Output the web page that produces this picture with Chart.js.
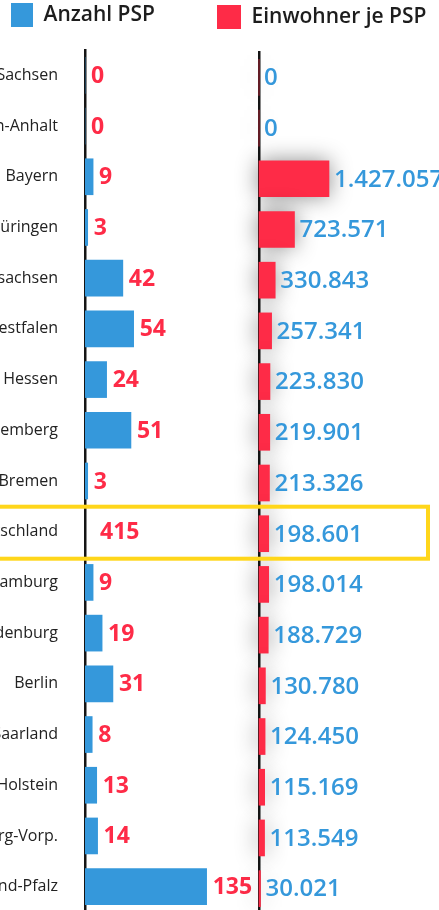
<!DOCTYPE html>
<html>
<head>
<meta charset="utf-8">
<script src="https://cdn.jsdelivr.net/npm/chart.js@4"></script>
<style>
  html, body { margin: 0; padding: 0; background: #fff; overflow: hidden; }
  #wrap { position: relative; width: 439px; height: 910px; overflow: hidden; }
  #links { position: absolute; left: 0; top: 0; width: 258px; height: 912px; }
  #rechts { position: absolute; left: 0; top: 2px; width: 439px; height: 912px; }
</style>
</head>
<body>
<div id="wrap">
  <div id="links"><canvas id="anzahl"></canvas></div>
  <div id="rechts"><canvas id="einwohner"></canvas></div>
</div>
<script>
var bundeslaender = ['Sachsen', 'Sachsen-Anhalt', 'Bayern', 'Thüringen', 'Niedersachsen',
  'Nordrhein-Westfalen', 'Hessen', 'Baden-Württemberg', 'Bremen', 'Deutschland', 'Hamburg',
  'Brandenburg', 'Berlin', 'Saarland', 'Schleswig-Holstein', 'Mecklenburg-Vorp.', 'Rheinland-Pfalz'];
var anzahlPSP = [0, 0, 9, 3, 42, 54, 24, 51, 3, 415, 9, 19, 31, 8, 13, 14, 135];
var einwohnerJePSP = [0, 0, 1427057, 723571, 330843, 257341, 223830, 219901, 213326, 198601,
  198014, 188729, 130780, 124450, 115169, 113549, 30021];

var blau = '#3598db';
var rot = '#fe2b47';
var gelb = '#ffd61a';
var schrift = "'Open Sans', sans-serif";

// Deutschland bekommt keinen Balken, nur die Zahl
var anzahlBalken = anzahlPSP.map(function(v, i) {
  return bundeslaender[i] === 'Deutschland' ? null : v;
});

function tausender(v) {
  return String(v).replace(/\B(?=(\d{3})+(?!\d))/g, '.');
}

// feste Legendenhoehe und seitlicher Versatz der Legende
function legende(h, dx) {
  return {
    id: 'legende',
    beforeInit: function(chart) {
      var legend = chart.legend;
      var fit = legend.fit;
      legend.fit = function() {
        fit.bind(legend)();
        this.height = h;
      };
      var draw = legend.draw;
      legend.draw = function() {
        chart.ctx.save();
        chart.ctx.translate(dx, 0);
        draw.apply(legend, arguments);
        chart.ctx.restore();
      };
    }
  };
}

function wertLabels(werte, font, farbe, abstand, format) {
  return {
    id: 'wertLabels',
    afterDatasetsDraw: function(chart) {
      var ctx = chart.ctx;
      var meta = chart.getDatasetMeta(0);
      var daten = chart.data.datasets[0].data;
      var x0 = chart.scales.x.getPixelForValue(0);
      ctx.save();
      ctx.font = font;
      ctx.fillStyle = farbe;
      ctx.textAlign = 'left';
      ctx.textBaseline = 'middle';
      werte.forEach(function(v, i) {
        var y = chart.scales.y.getPixelForValue(i);
        var x = daten[i] == null ? x0 + 15 : meta.data[i].x + abstand;
        ctx.fillText(format(v), x, y + 1);
      });
      ctx.restore();
    }
  };
}

var schatten = {
  id: 'schatten',
  beforeDatasetsDraw: function(chart) {
    var ctx = chart.ctx;
    ctx.save();
    ctx.shadowColor = 'rgba(0,0,0,0.45)';
    ctx.shadowBlur = 22;
  },
  afterDatasetsDraw: function(chart) {
    chart.ctx.restore();
  }
};

var markierung = {
  id: 'markierung',
  afterDraw: function(chart) {
    var ctx = chart.ctx;
    var y = chart.scales.y.getPixelForValue(bundeslaender.indexOf('Deutschland'));
    ctx.save();
    ctx.strokeStyle = gelb;
    ctx.lineWidth = 4;
    ctx.strokeRect(-10, y - 27, 438, 52);
    ctx.restore();
  }
};

document.addEventListener('DOMContentLoaded', function() {
  new Chart(document.getElementById('anzahl').getContext('2d'), {
    type: 'bar',
    data: {
      labels: bundeslaender,
      datasets: [{
        label: 'Anzahl PSP',
        data: anzahlBalken,
        backgroundColor: blau,
        borderWidth: 0,
        barThickness: 36
      }]
    },
    options: {
      indexAxis: 'y',
      responsive: true,
      maintainAspectRatio: false,
      animation: false,
      layout: { padding: 0 },
      plugins: {
        tooltip: { enabled: false },
        legend: {
          display: true,
          align: 'start',
          labels: {
            padding: 3,
            boxWidth: 22,
            boxHeight: 24,
            color: '#1d1d1d',
            font: { family: schrift, size: 21, weight: '600' }
          }
        }
      },
      scales: {
        x: { display: false, min: 0, max: 192 },
        y: {
          afterFit: function(scale) {
            scale.width = 85;
            scale.paddingTop = 0;
            scale.paddingBottom = 0;
          },
          grid: { display: false, drawTicks: false },
          border: { display: true, color: '#151515', width: 2.5 },
          ticks: {
            padding: 27,
            color: '#222',
            autoSkip: false,
            font: { family: schrift, size: 16 }
          }
        }
      }
    },
    plugins: [legende(50, 8), wertLabels(anzahlPSP, "bold 23px 'Open Sans'", rot, 6, String)]
  });

  new Chart(document.getElementById('einwohner').getContext('2d'), {
    type: 'bar',
    data: {
      labels: bundeslaender,
      datasets: [{
        label: 'Einwohner je PSP',
        data: einwohnerJePSP,
        backgroundColor: rot,
        borderWidth: 0,
        barThickness: 36,
        clip: false
      }]
    },
    options: {
      indexAxis: 'y',
      responsive: true,
      maintainAspectRatio: false,
      animation: false,
      layout: { padding: { left: 214, right: 0, top: 0, bottom: 0 } },
      plugins: {
        tooltip: { enabled: false },
        legend: {
          display: true,
          align: 'start',
          labels: {
            padding: 3,
            boxWidth: 24,
            boxHeight: 24,
            color: '#1d1d1d',
            font: { family: schrift, size: 21, weight: '600' }
          }
        }
      },
      scales: {
        x: { display: false, min: 0, max: 3670000 },
        y: {
          afterFit: function(scale) { scale.width = 45; },
          grid: { display: false, drawTicks: false },
          border: { display: true, color: '#151515', width: 2.5 },
          ticks: { display: false }
        }
      }
    },
    plugins: [legende(50, 0), schatten, wertLabels(einwohnerJePSP, "600 24px 'Open Sans'", blau, 5, tausender), markierung]
  });
});
</script>
</body>
</html>
